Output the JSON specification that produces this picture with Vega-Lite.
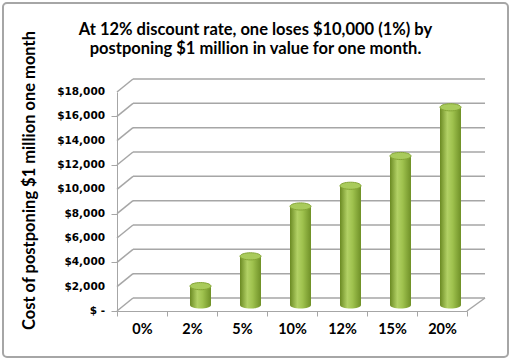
{
  "$schema": "https://vega.github.io/schema/vega-lite/v6.json",
  "width": 505,
  "height": 354,
  "autosize": "none",
  "padding": {"left": 3, "top": 3, "right": 4, "bottom": 5},
  "background": "white",
  "title": {
    "text": ["At 12% discount rate, one loses $10,000 (1%) by", "postponing $1 million in value for one month."],
    "font": "Lato", "fontSize": 16.5, "fontWeight": "bold", "color": "black",
    "anchor": "middle", "frame": "group", "lineHeight": 18.5, "baseline": "top", "offset": 0, "dy": 54
  },
  "datasets": {
    "costs": [
      {"rate": "0%", "cost": 0},
      {"rate": "2%", "cost": 1550},
      {"rate": "5%", "cost": 4000},
      {"rate": "10%", "cost": 8100},
      {"rate": "12%", "cost": 9800},
      {"rate": "15%", "cost": 12250},
      {"rate": "20%", "cost": 16250}
    ],
    "grid": [
      {"g": 0}, {"g": 2000}, {"g": 4000}, {"g": 6000}, {"g": 8000},
      {"g": 10000}, {"g": 12000}, {"g": 14000}, {"g": 16000}, {"g": 18000}
    ]
  },
  "layer": [
    {
      "data": {"name": "grid"},
      "mark": {"type": "rule", "color": "#a6a6a6", "strokeWidth": 1.5, "xOffset": 16, "x2Offset": 18, "yOffset": -13},
      "encoding": {
        "x": {"datum": "0%", "type": "nominal", "bandPosition": 0,
          "scale": {"domain": ["0%", "2%", "5%", "10%", "12%", "15%", "20%"], "range": [114, 464], "paddingInner": 0, "paddingOuter": 0},
          "axis": {"orient": "bottom", "offset": -46, "title": null, "labelAngle": 0, "tickBand": "extent",
            "domainColor": "#a6a6a6", "tickColor": "#a6a6a6", "tickSize": 5, "labelPadding": 6,
            "labelFont": "Lato", "labelFontSize": 14.5, "labelFontWeight": "bold", "labelColor": "black"}},
        "x2": {"datum": "20%", "bandPosition": 1},
        "y": {"field": "g", "type": "quantitative",
          "scale": {"domain": [0, 18000], "range": [308, 89], "nice": false, "zero": true},
          "axis": {"orient": "left", "offset": -114, "values": [0, 2000, 4000, 6000, 8000, 10000, 12000, 14000, 16000, 18000],
            "labels": false, "grid": false, "domainColor": "#a6a6a6", "tickColor": "#a6a6a6", "tickSize": 6,
            "title": "Cost of postponing $1 million one month", "titleFont": "Lato", "titleFontSize": 16.5, "titleFontWeight": "bold",
            "titleColor": "black", "titleAngle": -90, "titleX": -88, "titleY": 177, "titleAlign": "center", "titleBaseline": "middle"}}
      }
    },
    {
      "data": {"name": "grid"},
      "mark": {"type": "text", "align": "right", "baseline": "middle", "xOffset": -12, "font": "DejaVu Sans", "fontSize": 10.5, "fontWeight": "bold", "color": "black"},
      "encoding": {
        "x": {"datum": "0%", "type": "nominal", "bandPosition": 0},
        "y": {"field": "g", "type": "quantitative"},
        "text": {"condition": {"test": "datum.g == 0", "value": "$ -\u00a0\u00a0"}, "field": "g", "type": "quantitative", "format": "$,"}
      }
    },
    {
      "data": {"name": "grid"},
      "mark": {"type": "rule", "color": "#a6a6a6", "strokeWidth": 1.5, "x2Offset": 16, "y2Offset": -13},
      "encoding": {
        "x": {"datum": "0%", "type": "nominal", "bandPosition": 0},
        "x2": {"datum": "0%", "bandPosition": 0},
        "y": {"field": "g", "type": "quantitative"},
        "y2": {"field": "g"}
      }
    },
    {
      "data": {"name": "grid"},
      "transform": [{"filter": "datum.g == 0"}],
      "mark": {"type": "rule", "color": "#a6a6a6", "strokeWidth": 1.5, "x2Offset": 18, "y2Offset": -13},
      "encoding": {
        "x": {"datum": "20%", "type": "nominal", "bandPosition": 1},
        "x2": {"datum": "20%", "bandPosition": 1},
        "y": {"field": "g", "type": "quantitative"},
        "y2": {"field": "g"}
      }
    },
    {
      "data": {"name": "costs"},
      "transform": [{"filter": "datum.cost > 0"}],
      "mark": {"type": "point", "filled": true, "size": 441, "xOffset": 8.5, "yOffset": -6,
        "shape": "M-1,0A1,0.34,0,1,1,1,0A1,0.34,0,1,1,-1,0Z",
        "fill": {"gradient": "linear", "x1": 0, "y1": 0, "x2": 1, "y2": 0,
          "stops": [{"offset": 0, "color": "#6b8a23"}, {"offset": 0.35, "color": "#b2d165"}, {"offset": 0.6, "color": "#9fc24e"}, {"offset": 1, "color": "#6f9027"}]},
        "opacity": 1, "strokeWidth": 0},
      "encoding": {
        "x": {"field": "rate", "type": "nominal"},
        "y": {"datum": 0, "type": "quantitative"}
      }
    },
    {
      "data": {"name": "costs"},
      "transform": [{"filter": "datum.cost > 0"}],
      "mark": {"type": "bar", "width": 21, "xOffset": 8.5, "yOffset": -6, "y2Offset": -6,
        "fill": {"gradient": "linear", "x1": 0, "y1": 0, "x2": 1, "y2": 0,
          "stops": [{"offset": 0, "color": "#6b8a23"}, {"offset": 0.35, "color": "#b2d165"}, {"offset": 0.6, "color": "#9fc24e"}, {"offset": 1, "color": "#6f9027"}]}},
      "encoding": {
        "x": {"field": "rate", "type": "nominal"},
        "y": {"field": "cost", "type": "quantitative"}
      }
    },
    {
      "data": {"name": "costs"},
      "transform": [{"filter": "datum.cost > 0"}],
      "mark": {"type": "point", "filled": true, "size": 441, "xOffset": 8.5, "yOffset": -6,
        "shape": "M-1,0A1,0.34,0,1,1,1,0A1,0.34,0,1,1,-1,0Z",
        "fill": "#a9cb5c", "stroke": "#84a536", "strokeWidth": 1, "opacity": 1},
      "encoding": {
        "x": {"field": "rate", "type": "nominal"},
        "y": {"field": "cost", "type": "quantitative"}
      }
    }
  ],
  "config": {
    "view": {"stroke": "#a6a6a6", "strokeWidth": 2, "cornerRadius": 4}
  }
}
